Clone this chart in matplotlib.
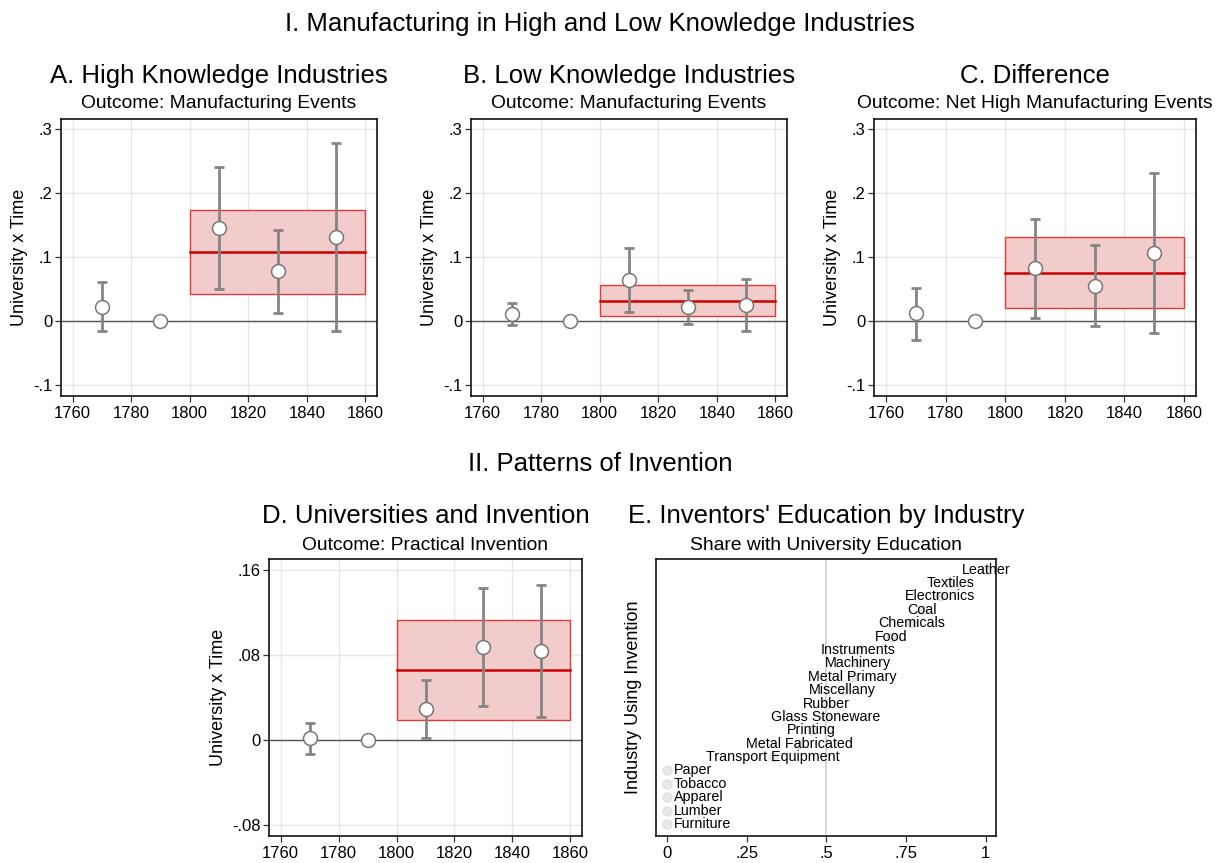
import numpy as np
import matplotlib
matplotlib.use("Agg")
import matplotlib.pyplot as plt
from matplotlib.patches import Rectangle

plt.rcParams['font.family'] = ['Liberation Sans', 'DejaVu Sans']

W, H = 1218, 863

# Event-study years
years = [1770, 1790, 1810, 1830, 1850]

# Panel A: high knowledge industries
a_coef = [0.0224, 0.0, 0.146, 0.0777, 0.132]
a_low = [-0.016, 0.0, 0.0506, 0.013, -0.0156]
a_high = [0.0605, 0.0, 0.2415, 0.143, 0.279]
a_pooled = [0.1074, 0.0422, 0.173]  # estimate, ci low, ci high

# Panel B: low knowledge industries
b_coef = [0.011, 0.0, 0.064, 0.0224, 0.026]
b_low = [-0.0063, 0.0, 0.0136, -0.0047, -0.015]
b_high = [0.0276, 0.0, 0.1147, 0.049, 0.066]
b_pooled = [0.0318, 0.0073, 0.0558]

# Panel C: difference
c_coef = [0.012, 0.0, 0.0824, 0.0553, 0.1064]
c_low = [-0.0287, 0.0, 0.0057, -0.0078, -0.018]
c_high = [0.0516, 0.0, 0.1596, 0.119, 0.231]
c_pooled = [0.0756, 0.0209, 0.1309]

# Panel D: practical invention
d_coef = [0.0019, 0.0, 0.0295, 0.0878, 0.0838]
d_low = [-0.0125, 0.0, 0.0022, 0.0326, 0.0216]
d_high = [0.0163, 0.0, 0.0565, 0.1434, 0.1456]
d_pooled = [0.0662, 0.0188, 0.1129]

# Panel E: inventors' education by industry
industries = ["Furniture", "Lumber", "Apparel", "Tobacco", "Paper",
              "Transport Equipment", "Metal Fabricated", "Printing",
              "Glass Stoneware", "Rubber", "Miscellany", "Metal Primary",
              "Machinery", "Instruments", "Food", "Chemicals", "Coal",
              "Electronics", "Textiles", "Leather"]
univ_share = [0, 0, 0, 0, 0, 0.333, 0.415, 0.453, 0.499, 0.499, 0.551,
              0.581, 0.598, 0.599, 0.703, 0.767, 0.799, 0.856, 0.888, 1.0]


def rect(l, r, t, b):
    return [l / W, 1 - b / H, (r - l) / W, (b - t) / H]


def style_axes(ax):
    for s in ax.spines.values():
        s.set_color("black")
        s.set_linewidth(1.1)
    ax.tick_params(axis="both", direction="out", length=4, width=0.9,
                   color="#333333", labelsize=12, pad=3)
    ax.tick_params(axis="y", pad=2)


def event_panel(ax, coef, low, high, pooled, yticks, ylabels, ylim):
    style_axes(ax)
    ax.set_xlim(1756, 1864)
    ax.set_ylim(*ylim)
    ax.set_xticks([1760, 1780, 1800, 1820, 1840, 1860])
    ax.set_yticks(yticks)
    ax.set_yticklabels(ylabels)
    ax.grid(True, color="#e6e6e6", linewidth=1.0, zorder=0)
    ax.set_axisbelow(True)

    # pooled post-1800 estimate with confidence band
    est, lo, hi = pooled
    ax.add_patch(Rectangle((1800, lo), 60, hi - lo, facecolor="#f2cbcb",
                           edgecolor="#e23a3a", linewidth=1.0, zorder=2))
    ax.plot([1800, 1860], [est, est], color="#cc0000", linewidth=1.8, zorder=3)

    ax.axhline(0, color="#555555", linewidth=1.0, zorder=1)

    coef = np.asarray(coef)
    err = [coef - np.asarray(low), np.asarray(high) - coef]
    ax.errorbar(years, coef, yerr=err, fmt="none", ecolor="#858585",
                elinewidth=2.0, capsize=3.5, capthick=2.0, zorder=4)
    ax.plot(years, coef, "o", markersize=10, markerfacecolor="white",
            markeredgecolor="#777777", markeredgewidth=1.1, zorder=5)
    ax.set_ylabel("University x Time", fontsize=13, labelpad=4)


fig = plt.figure(figsize=(W / 100, H / 100), dpi=100)

fig.text(600 / W, 1 - 24 / H, "I. Manufacturing in High and Low Knowledge Industries",
         ha="center", va="center", fontsize=18.5)
fig.text(600 / W, 1 - 464 / H, "II. Patterns of Invention",
         ha="center", va="center", fontsize=18.5)

top_ticks = [-0.1, 0, 0.1, 0.2, 0.3]
top_labels = ["-.1", "0", ".1", ".2", ".3"]
top_lim = (-0.117, 0.316)

panels = [
    ((61, 377), a_coef, a_low, a_high, a_pooled,
     "A. High Knowledge Industries", "Outcome: Manufacturing Events"),
    ((471, 787), b_coef, b_low, b_high, b_pooled,
     "B. Low Knowledge Industries", "Outcome: Manufacturing Events"),
    ((874, 1196), c_coef, c_low, c_high, c_pooled,
     "C. Difference", "Outcome: Net High Manufacturing Events"),
]
for (l, r), coef, low, high, pooled, title, sub in panels:
    ax = fig.add_axes(rect(l, r, 119, 396))
    event_panel(ax, coef, low, high, pooled, top_ticks, top_labels, top_lim)
    cx = (l + r) / 2 / W
    fig.text(cx, 1 - 76 / H, title, ha="center", va="center", fontsize=18.5)
    fig.text(cx, 1 - 104 / H, sub, ha="center", va="center", fontsize=13.9)

# Panel D
ax = fig.add_axes(rect(269, 582, 559, 836))
event_panel(ax, d_coef, d_low, d_high, d_pooled, [-0.08, 0, 0.08, 0.16],
            ["-.08", "0", ".08", ".16"], (-0.090, 0.1704))
cx = (269 + 582) / 2 / W
fig.text(cx, 1 - 516 / H, "D. Universities and Invention", ha="center",
         va="center", fontsize=18.5)
fig.text(cx, 1 - 545 / H, "Outcome: Practical Invention", ha="center",
         va="center", fontsize=13.9)

# Panel E
ax = fig.add_axes(rect(656, 996, 559, 836))
style_axes(ax)
ypos = np.arange(1, len(industries) + 1)
ax.set_xlim(-0.035, 1.032)
ax.set_ylim(0.1, 20.8)
ax.set_xticks([0, 0.25, 0.5, 0.75, 1])
ax.set_xticklabels(["0", ".25", ".5", ".75", "1"])
ax.set_yticks([])
ax.axvline(0.5, color="#d9d9d9", linewidth=1.5, zorder=0)
ax.plot(univ_share, ypos, "o", markersize=6.5, markerfacecolor="#e8e8e8",
        markeredgecolor="#dddddd", markeredgewidth=0.8, zorder=2)
for name, x, y in zip(industries, univ_share, ypos):
    if x == 0:
        ax.annotate(name, (x, y), xytext=(5, 0), textcoords="offset points",
                    ha="left", va="center", fontsize=10.3, zorder=3)
    else:
        ax.text(x, y, name, ha="center", va="center", fontsize=10.3, zorder=3)
ax.set_ylabel("Industry Using Invention", fontsize=13, labelpad=10)
cx = (656 + 996) / 2 / W
fig.text(cx, 1 - 516 / H, "E. Inventors' Education by Industry", ha="center",
         va="center", fontsize=18.5)
fig.text(cx, 1 - 545 / H, "Share with University Education", ha="center",
         va="center", fontsize=13.9)

fig.savefig("out.png", dpi=100)
